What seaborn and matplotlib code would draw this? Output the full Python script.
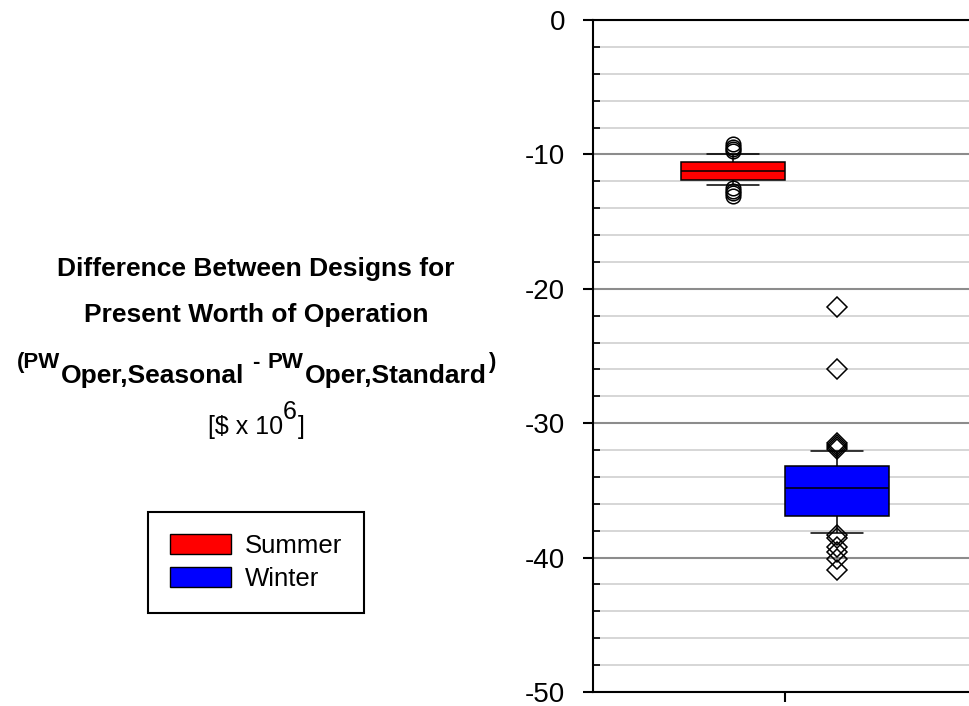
import matplotlib
matplotlib.use("Agg")
import matplotlib.pyplot as plt
from matplotlib.ticker import MultipleLocator, FixedLocator
from matplotlib.patches import Patch
import pandas as pd
import seaborn as sns

# Seasonal minus standard design, present worth of operation [$ x 10^6]
seasons = ["Summer", "Winter"]
season_colors = ["#ff0000", "#0000ff"]

summer_diff = [
    -13.1, -12.9, -12.7, -12.5,
    -12.3,
    -12.2, -12.1, -12.05, -12.0, -11.95,
    -11.9,
    -11.85, -11.8, -11.7, -11.65, -11.55, -11.5, -11.4, -11.35, -11.25,
    -11.2,
    -11.1, -11.05, -11.0, -10.95, -10.9, -10.8, -10.75, -10.7, -10.6,
    -10.57,
    -10.5, -10.4, -10.3, -10.2, -10.1,
    -10.0,
    -9.75, -9.6, -9.45, -9.25,
]

winter_diff = [
    -40.9, -40.1, -39.6, -39.2, -38.55, -38.35,
    -38.2,
    -38.0, -37.8, -37.6, -37.5, -37.35, -37.2, -37.1, -37.0,
    -36.9,
    -36.75, -36.6, -36.5, -36.35, -36.2, -36.1, -35.95, -35.8, -35.65,
    -35.5, -35.35, -35.2, -35.05, -34.9,
    -34.8,
    -34.7, -34.6, -34.5, -34.4, -34.3, -34.2, -34.1, -34.0, -33.9, -33.8,
    -33.7, -33.55, -33.4, -33.3,
    -33.2,
    -33.1, -33.0, -32.9, -32.8, -32.65, -32.5, -32.35, -32.2,
    -32.1,
    -31.9, -31.75, -31.6, -31.45, -26.0, -21.35,
]

y_ticks = [0, -10, -20, -30, -40, -50]
y_tick_labels = ["0", "-10", "-20", "-30", "-40", "-50"]

title_lines = ["Difference Between Designs for", "Present Worth of Operation"]

sns.set_theme(style="white")
plt.rcParams["font.family"] = ["Liberation Sans", "DejaVu Sans"]
plt.rcParams["text.color"] = "black"
plt.rcParams["xtick.color"] = "black"
plt.rcParams["ytick.color"] = "black"
plt.rcParams["axes.labelcolor"] = "black"

df = pd.DataFrame({
    "design": ["Seasonal vs Standard"] * (len(summer_diff) + len(winter_diff)),
    "season": ["Summer"] * len(summer_diff) + ["Winter"] * len(winter_diff),
    "diff": summer_diff + winter_diff,
})

W, H = 970, 706
fig = plt.figure(figsize=(W / 100, H / 100), dpi=100)
ax = fig.add_axes([593 / W, 1 - 692 / H, 384 / W, 672 / H])

sns.boxplot(
    data=df, x="design", y="diff", hue="season", hue_order=seasons,
    palette=dict(zip(seasons, season_colors)), saturation=1,
    width=0.54, gap=0, dodge=True, whis=(9.9, 90.1),
    linecolor="black", linewidth=1.1, fliersize=10.5,
    flierprops=dict(marker="o", markerfacecolor="none",
                    markeredgecolor="black", markeredgewidth=1.1,
                    markersize=10.5),
    legend=False, ax=ax,
)

# winter outliers drawn as open diamonds
for line in ax.containers[1].fliers:
    line.set_marker("D")
    line.set_markersize(10)
    line.set_markerfacecolor("none")
    line.set_markeredgecolor("black")

ax.set_xlim(-0.5, 0.5)
ax.set_ylim(-50, 0)
ax.yaxis.set_major_locator(FixedLocator(y_ticks))
ax.set_yticklabels(y_tick_labels)
ax.yaxis.set_minor_locator(MultipleLocator(2))
ax.set_xticks([0])
ax.set_xticklabels([""])
ax.set_xlabel("")
ax.set_ylabel("")

ax.set_axisbelow(True)
ax.grid(False)
ax.yaxis.grid(True, which="major", color="#8c8c8c", linewidth=1.5)
ax.yaxis.grid(True, which="minor", color="#d6d6d6", linewidth=1.4)

ax.tick_params(axis="y", which="major", direction="out", length=7,
               width=1.5, color="black", labelcolor="black",
               labelsize=20, pad=13, left=True)
ax.tick_params(axis="y", which="minor", direction="in", length=5,
               width=1.2, color="black", left=True)
ax.tick_params(axis="x", which="major", direction="out", length=7,
               width=1.5, color="black", bottom=True)
for side in ["left", "bottom", "top"]:
    ax.spines[side].set_visible(True)
    ax.spines[side].set_color("black")
    ax.spines[side].set_linewidth(1.5)
ax.spines["right"].set_visible(False)

# ---- explanatory text block on the left ----
renderer = fig.canvas.get_renderer()


def draw_run(pieces, center_x, baseline_y):
    """Draw a row of text pieces (text, size, weight, rise_px, gap_px),
    centred horizontally on center_x with the given baseline (pixels from top)."""
    items = []
    for s, size, weight, rise, gap in pieces:
        t = fig.text(0, 0, s, fontsize=size, fontweight=weight,
                     ha="left", va="baseline", color="black",
                     parse_math=False)
        w = t.get_window_extent(renderer).width
        items.append((t, w, rise, gap))
    total = sum(w + gap for _, w, _, gap in items)
    x = center_x - total / 2
    for t, w, rise, gap in items:
        x += gap
        t.set_position((x / W, (H - baseline_y + rise) / H))
        x += w


cx = 256
draw_run([(title_lines[0], 19, "bold", 0, 0)], cx, 276)
draw_run([(title_lines[1], 19, "bold", 0, 0)], cx, 322)
draw_run([
    ("(PW", 16, "bold", 15, 0),
    ("Oper,Seasonal", 19, "bold", 0, 1),
    ("-", 16, "bold", 15, 8),
    ("PW", 16, "bold", 15, 8),
    ("Oper,Standard", 19, "bold", 0, 1),
    (")", 16, "bold", 15, 1),
], cx, 383)
draw_run([
    ("[$ x 10", 18, "normal", 0, 0),
    ("6", 18, "normal", 15, 0),
    ("]", 18, "normal", 0, 1),
], cx, 434)

handles = [Patch(facecolor=c, edgecolor="black", linewidth=1.0, label=s)
           for s, c in zip(seasons, season_colors)]
leg = fig.legend(
    handles=handles, loc="upper left",
    bbox_to_anchor=(148 / W, 1 - 512 / H), bbox_transform=fig.transFigure,
    frameon=True, fancybox=False, shadow=False, framealpha=1,
    edgecolor="black", facecolor="white", fontsize=18.5,
    handlelength=2.37, handleheight=0.8, handletextpad=0.55,
    labelspacing=0.36, borderpad=0.85, borderaxespad=0,
)
leg.get_frame().set_linewidth(1.5)
for txt in leg.get_texts():
    txt.set_color("black")

fig.savefig("out.png", dpi=100)
